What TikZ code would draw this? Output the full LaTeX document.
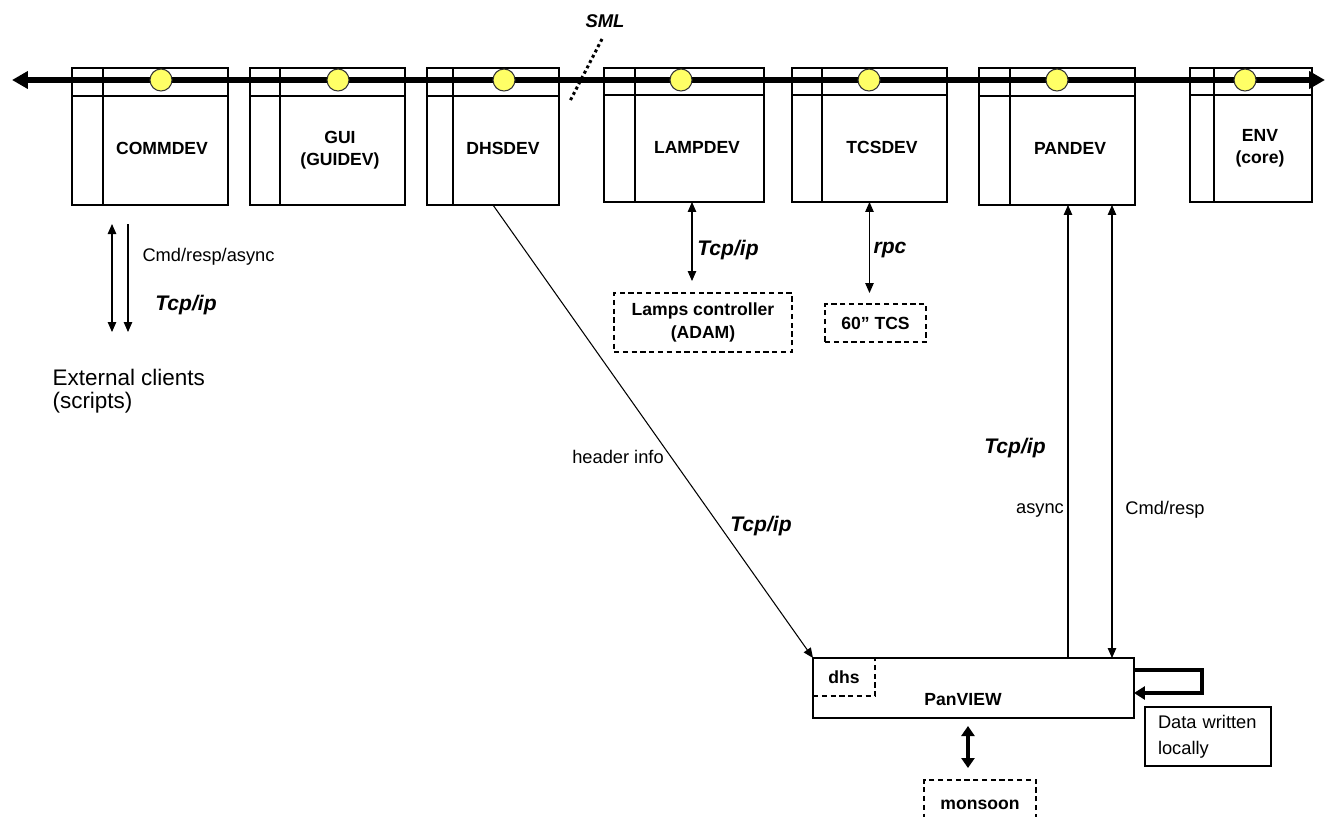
\documentclass[tikz,border=0pt]{standalone}
\usepackage{fontspec}
\setmainfont{Liberation Sans}
\usepackage{xcolor}
\usepackage{tikz}
\usetikzlibrary{arrows.meta,calc,positioning}
\definecolor{beadyellow}{RGB}{255,255,102}

\begin{document}
\begin{tikzpicture}[x=0.02cm,y=-0.02cm,line width=0.6pt,
  >={Triangle[length=0.2cm,width=0.17cm]},
  devbox/.style={draw,line width=0.7pt,outer sep=0pt,inner sep=0pt,anchor=north west},
  dashbox/.style={draw,line width=0.7pt,dash pattern=on 3pt off 2pt,outer sep=0pt,inner sep=0pt,font=\bfseries\fontsize{10}{13}\selectfont,align=center},
  lbl/.style={font=\bfseries\fontsize{10}{12.5}\selectfont,align=center,inner sep=0pt},
  tcp/.style={font=\bfseries\itshape\fontsize{12}{14}\selectfont,inner sep=0pt},
  note/.style={font=\fontsize{10.4}{12}\selectfont,inner sep=0pt},
  bead/.style={circle,draw=black!80,line width=0.6pt,fill=beadyellow,minimum size=0.44cm,inner sep=0pt},
  bus/.style={line width=2.9pt,{Triangle[length=0.32cm,width=0.34cm]}-{Triangle[length=0.32cm,width=0.34cm]}},
  fat/.style={line width=1.9pt}]
  \useasboundingbox (0,0) rectangle (1327,816);

  % device boxes on the bus
  \node[devbox,minimum width=3.12cm,minimum height=2.74cm] (comm) at (72,68) {};
  \node[devbox,minimum width=3.10cm,minimum height=2.74cm] (gui) at (250,68) {};
  \node[devbox,minimum width=2.64cm,minimum height=2.74cm] (dhs) at (427,68) {};
  \node[devbox,minimum width=3.20cm,minimum height=2.68cm] (lamp) at (604,68) {};
  \node[devbox,minimum width=3.10cm,minimum height=2.68cm] (tcs) at (792,68) {};
  \node[devbox,minimum width=3.12cm,minimum height=2.74cm] (pan) at (979,68) {};
  \node[devbox,minimum width=2.44cm,minimum height=2.68cm] (env) at (1190,68) {};

  \draw (comm.north west) ++(31,0) -- ++(0,137);
  \draw (gui.north west) ++(30,0) -- ++(0,137);
  \draw (dhs.north west) ++(26,0) -- ++(0,137);
  \draw (lamp.north west) ++(31,0) -- ++(0,134);
  \draw (tcs.north west) ++(30,0) -- ++(0,134);
  \draw (pan.north west) ++(31,0) -- ++(0,137);
  \draw (env.north west) ++(24,0) -- ++(0,134);
  \draw ($(comm.north west)+(0,28)$) -- ($(comm.north east)+(0,28)$);
  \draw ($(gui.north west)+(0,28)$) -- ($(gui.north east)+(0,28)$);
  \draw ($(dhs.north west)+(0,28)$) -- ($(dhs.north east)+(0,28)$);
  \draw ($(lamp.north west)+(0,27)$) -- ($(lamp.north east)+(0,27)$);
  \draw ($(tcs.north west)+(0,27)$) -- ($(tcs.north east)+(0,27)$);
  \draw ($(pan.north west)+(0,28)$) -- ($(pan.north east)+(0,28)$);
  \draw ($(env.north west)+(0,27)$) -- ($(env.north east)+(0,27)$);

  \node[lbl] (commlbl) at (162,148) {COMMDEV};
  \node[lbl] (guilbl) at (340,150) {GUI\\(GUIDEV)};
  \node[lbl] (dhslbl) at (503,148) {DHSDEV};
  \node[lbl] (lamplbl) at (697,147) {LAMPDEV};
  \node[lbl] (tcslbl) at (882,147) {TCSDEV};
  \node[lbl] (panlbl) at (1070,148) {PANDEV};
  \node[lbl] (envlbl) at (1260,148) {ENV\\(core)};

  % the bus
  \coordinate (busL) at (12,80);
  \coordinate (busR) at (1325,80);
  \draw[bus] (busL) -- (busR);
  \node[bead] (b1) at (161,80) {};
  \node[bead] (b2) at (338,80) {};
  \node[bead] (b3) at (504,80) {};
  \node[bead] (b4) at (681,80) {};
  \node[bead] (b5) at (869,80) {};
  \node[bead] (b6) at (1057,80) {};
  \node[bead] (b7) at (1245,80) {};

  \node[tcp,font=\bfseries\itshape\fontsize{10.5}{12}\selectfont] (sml) at (605,21) {SML};
  \coordinate (smltop) at (602,39);
  \coordinate (smlbot) at (570,101);
  \draw[line width=1.7pt,dash pattern=on 1.7pt off 1.7pt] (smltop) -- (smlbot);

  % external clients
  \coordinate (c1a) at (112,224);
  \coordinate (c1b) at (112,332);
  \coordinate (c2a) at (128,224);
  \coordinate (c2b) at (128,332);
  \draw[<->] (c1a) -- (c1b);
  \draw[->] (c2a) -- (c2b);
  \node[note,anchor=west] (cmdall) at (142,257) {Cmd/resp/async};
  \node[tcp] (tcp1) at (186,305) {Tcp/ip};
  \node[note,anchor=west,align=left,font=\fontsize{12.8}{13}\selectfont] (ext) at (52,391) {External clients\\(scripts)};

  % lamps and telescope
  \node[dashbox,minimum width=3.56cm,minimum height=1.18cm] (lampctl) at (703,322.5) {Lamps controller\\(ADAM)};
  \node[dashbox,minimum width=2.02cm,minimum height=0.76cm] (tcsctl) at (875.5,323) {60” TCS};
  \coordinate (lampfoot) at ($(lamp.south)+(8,0)$);
  \draw[<->,shorten >=0.24cm] (lampfoot) -- (lampfoot |- lampctl.north);
  \draw[<->,shorten >=0.22cm] (tcs.south) -- (tcs.south |- tcsctl.north);
  \node[tcp] (tcp2) at (728,250) {Tcp/ip};
  \node[tcp] (rpc) at (890,250) {rpc};

  % PanVIEW
  \node[devbox,minimum width=6.42cm,minimum height=1.2cm] (panview) at (813,658) {};
  \node[lbl] (pvlbl) at (963,700) {PanVIEW};
  \node[dashbox,anchor=north west,minimum width=1.24cm,minimum height=0.76cm] (dhsbox) at (panview.north west) {dhs};
  \draw[->] (dhs.south) -- (panview.north west);
  \node[note] (hdr) at (618,457) {header info};
  \node[tcp] (tcp3) at (761,526) {Tcp/ip};

  \coordinate (asyncfoot) at ($(pan.south)+(11,0)$);
  \coordinate (cmdfoot) at ($(pan.south)+(55,0)$);
  \draw[->] (asyncfoot |- panview.north) -- (asyncfoot);
  \draw[<->] (cmdfoot |- panview.north) -- (cmdfoot);
  \node[tcp] (tcp4) at (1015,448) {Tcp/ip};
  \node[note] (async) at (1040,510) {async};
  \node[note] (cmdresp) at (1165,510) {Cmd/resp};

  \node[devbox,draw,minimum width=2.52cm,minimum height=1.18cm,text width=2.0cm,inner xsep=0.26cm,align=left,font=\fontsize{10.4}{15}\selectfont] (data) at (1145,707) {Data written\\locally};
  \draw[fat,-{Triangle[length=0.22cm,width=0.26cm]}] ($(panview.east)+(0,-18)$) -- ++(68,0) |- ($(panview.east)+(0,5)$);

  \node[dashbox,anchor=north,minimum width=2.24cm,minimum height=1.0cm] (monsoon) at (980,780) {monsoon};
  \coordinate (pvfoot) at ($(panview.south)+(-5.5,0)$);
  \draw[fat,{Triangle[length=0.2cm,width=0.26cm]}-{Triangle[length=0.2cm,width=0.26cm]},shorten <=0.16cm,shorten >=0.24cm] (pvfoot) -- (pvfoot |- monsoon.north);
\end{tikzpicture}
\end{document}
